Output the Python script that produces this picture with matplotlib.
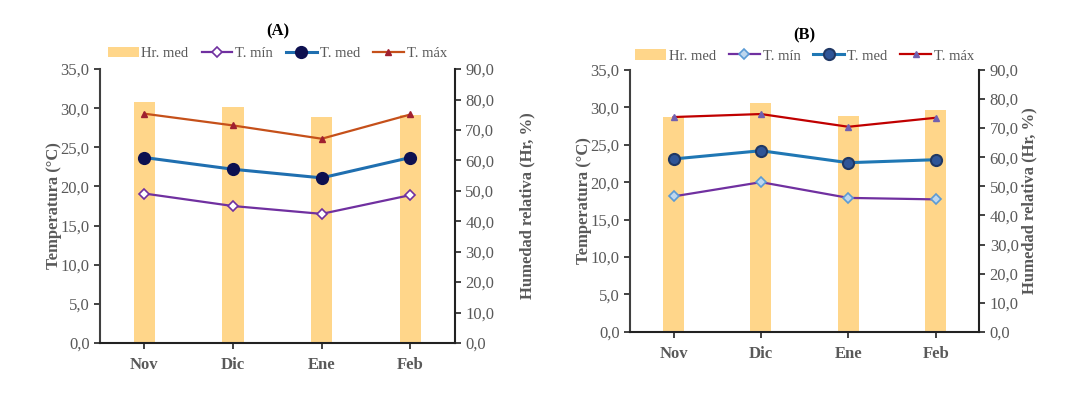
import matplotlib
matplotlib.use("Agg")
import matplotlib.pyplot as plt
from matplotlib.ticker import FuncFormatter

plt.rcParams['font.family'] = ['Liberation Serif', 'DejaVu Serif']

meses = ['Nov', 'Dic', 'Ene', 'Feb']

# panel A
hr_a = [79.2, 77.4, 74.1, 74.9]
tmin_a = [19.1, 17.5, 16.5, 18.9]
tmed_a = [23.7, 22.2, 21.1, 23.7]
tmax_a = [29.3, 27.8, 26.1, 29.2]

# panel B
hr_b = [73.8, 78.6, 74.1, 76.2]
tmin_b = [18.1, 20.0, 17.9, 17.7]
tmed_b = [23.1, 24.2, 22.6, 23.0]
tmax_b = [28.7, 29.1, 27.4, 28.6]

gris = '#595959'
coma = FuncFormatter(lambda v, p: ('%.1f' % v).replace('.', ','))


def panel(rect, titulo, hr, tmin, tmed, tmax, estilo, fig):
    ax = fig.add_axes(rect)
    ax2 = ax.twinx()
    ax.set_zorder(ax2.get_zorder() + 1)
    ax.patch.set_visible(False)
    x = range(len(meses))

    b = ax2.bar(x, hr, width=0.24, color='#FFD68A', label='Hr. med')
    l1, = ax.plot(x, tmin, color='#7030A0', lw=1.6, marker='D', ms=5,
                  mfc=estilo['min_fc'], mec=estilo['min_ec'], mew=1.2, label='T. mín')
    l2, = ax.plot(x, tmed, color=estilo['med_c'], lw=2.2, marker='o', ms=8,
                  mfc=estilo['med_fc'], mec=estilo['med_ec'], mew=1.5, label='T. med')
    l3, = ax.plot(x, tmax, color=estilo['max_c'], lw=1.6, marker='^', ms=5,
                  mfc=estilo['max_fc'], mec=estilo['max_fc'], label='T. máx')

    ax.set_xlim(-0.5, 3.5)
    ax.set_ylim(0, 35)
    ax2.set_ylim(0, 90)
    ax.set_yticks([0, 5, 10, 15, 20, 25, 30, 35])
    ax2.set_yticks(range(0, 91, 10))
    ax.yaxis.set_major_formatter(coma)
    ax2.yaxis.set_major_formatter(coma)
    ax.set_xticks(list(x))
    ax.set_xticklabels(meses, fontweight='bold', fontsize=12, color=gris)

    for a in (ax, ax2):
        a.spines['top'].set_visible(False)
        a.tick_params(axis='y', labelsize=12, colors=gris, length=4, width=1.2)
        a.tick_params(axis='y', color='#222222')
    ax.spines['right'].set_visible(False)
    ax2.spines['left'].set_visible(False)
    ax2.spines['bottom'].set_visible(False)
    ax.spines['left'].set_color('#404040')
    ax.spines['left'].set_linewidth(1.5)
    ax.spines['bottom'].set_color('#222222')
    ax.spines['bottom'].set_linewidth(1.5)
    ax2.spines['right'].set_color('#222222')
    ax2.spines['right'].set_linewidth(1.5)
    ax.tick_params(axis='x', length=4, width=1.2, color='#222222', pad=6)

    ax.set_ylabel('Temperatura (°C)', fontweight='bold', fontsize=12, color=gris, labelpad=-1)
    ax2.set_ylabel('Humedad relativa (Hr, %)', fontweight='bold', fontsize=12, color=gris,
                   labelpad=estilo['rpad'])
    ax.set_title(titulo, fontweight='bold', fontsize=12, pad=estilo['tpad'])

    ax.legend([b, l1, l2, l3], ['Hr. med', 'T. mín', 'T. med', 'T. máx'],
              loc='center', bbox_to_anchor=(0.5, estilo['ly']), ncol=4, frameon=False,
              fontsize=10.5, handlelength=2.1, handletextpad=0.2, columnspacing=0.9,
              labelcolor=gris, borderaxespad=0)


fig = plt.figure(figsize=(10.75, 3.97), dpi=100)

panel([0.093, 0.136, 0.330, 0.690], '(A)', hr_a, tmin_a, tmed_a, tmax_a,
      dict(min_fc='white', min_ec='#7030A0', med_c='#1F6FB0', med_fc='#0D1050', med_ec='#0D1050',
           max_c='#C5501A', max_fc='#A02030', rpad=18, tpad=24, ly=1.058), fig)
panel([0.586, 0.164, 0.325, 0.660], '(B)', hr_b, tmin_b, tmed_b, tmax_b,
      dict(min_fc='#BDD7EE', min_ec='#5B9BD5', med_c='#1F77B4', med_fc='#2F5597', med_ec='#203864',
           max_c='#C00000', max_fc='#7060B0', rpad=2, tpad=22, ly=1.053), fig)

fig.savefig('out.png', dpi=100)
